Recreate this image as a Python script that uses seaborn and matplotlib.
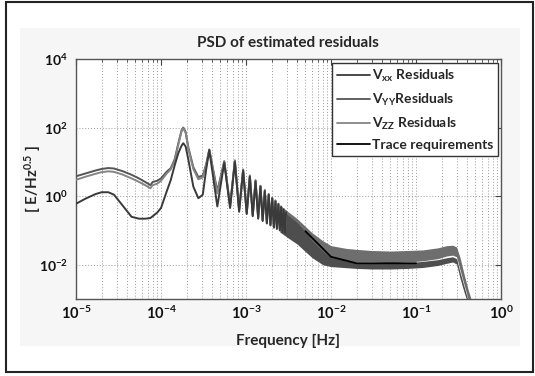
import numpy as np
import pandas as pd
import matplotlib
matplotlib.use("Agg")
import matplotlib.pyplot as plt
from matplotlib.patches import Rectangle
from matplotlib.lines import Line2D
import seaborn as sns

# ---------------- data ----------------
f_low = [1.0e-5, 1.3e-5, 1.7e-5, 2.0e-5, 2.4e-5, 2.8e-5, 3.5e-5, 4.5e-5, 5.5e-5,
         6.5e-5, 7.5e-5, 8.0e-5, 9.0e-5, 1.0e-4, 1.17e-4, 1.3e-4, 1.45e-4, 1.6e-4,
         1.75e-4, 1.83e-4, 1.95e-4, 2.1e-4, 2.4e-4, 2.75e-4, 3.1e-4, 3.4e-4, 3.7e-4]
vyy_low = [3.8, 4.6, 5.6, 6.2, 6.6, 6.4, 5.4, 4.2, 3.3, 2.6, 2.1, 2.6, 2.8, 3.3, 5.2,
           6.5, 12, 35, 85, 100, 75, 26, 7.0, 3.6, 4.0, 8.5, 23]
vzz_low = [3.0, 3.7, 4.5, 5.0, 5.3, 5.1, 4.3, 3.3, 2.6, 2.1, 1.7, 2.1, 2.3, 2.8, 4.6,
           6.0, 11, 32, 80, 95, 70, 24, 6.2, 3.1, 3.5, 8.0, 22]
vxx_low = [0.6, 0.85, 1.15, 1.3, 1.3, 1.1, 0.55, 0.25, 0.22, 0.22, 0.23, 0.26, 0.33,
           0.45, 1.4, 2.9, 8, 18, 30, 35, 28, 11.5, 1.9, 0.87, 1.1, 6.0, 22]

comb_f = [4.6e-4, 5.55e-4, 6.5e-4, 7.4e-4, 8.3e-4, 9.25e-4, 1.02e-3, 1.11e-3, 1.2e-3,
          1.295e-3, 1.39e-3, 1.48e-3, 1.57e-3, 1.665e-3, 1.76e-3, 1.85e-3, 1.94e-3,
          2.035e-3, 2.13e-3, 2.22e-3, 2.31e-3, 2.405e-3, 2.5e-3, 2.59e-3, 2.68e-3,
          2.775e-3, 2.87e-3, 2.96e-3]
comb_yy = [1.4, 10.5, 0.55, 11, 0.4, 6, 0.33, 4, 0.28, 2.9, 0.24, 2.0, 0.2, 1.5, 0.17,
           1.15, 0.15, 0.9, 0.13, 0.75, 0.12, 0.6, 0.11, 0.5, 0.1, 0.42, 0.09, 0.36]
comb_zz = [1.2, 10.0, 0.5, 10.5, 0.38, 5.8, 0.32, 3.9, 0.27, 2.8, 0.23, 1.95, 0.19, 1.45,
           0.165, 1.1, 0.145, 0.88, 0.125, 0.72, 0.115, 0.58, 0.105, 0.48, 0.095, 0.4,
           0.088, 0.35]
comb_xx = [0.5, 9.5, 0.45, 10, 0.35, 5.5, 0.3, 3.7, 0.26, 2.7, 0.22, 1.9, 0.19, 1.4,
           0.16, 1.1, 0.14, 0.85, 0.12, 0.7, 0.11, 0.58, 0.1, 0.48, 0.09, 0.4, 0.085, 0.34]

band_f = [2.5e-3, 3e-3, 4e-3, 5e-3, 6e-3, 8e-3, 1e-2, 1.5e-2, 2e-2, 3e-2, 5e-2, 8e-2,
          0.12, 0.18, 0.23, 0.27, 0.30, 0.33, 0.37, 0.41, 0.45]
band_yy_hi = [0.55, 0.38, 0.22, 0.13, 0.085, 0.05, 0.036, 0.03, 0.028, 0.026, 0.025,
              0.026, 0.027, 0.031, 0.036, 0.037, 0.033, 0.016, 0.005, 0.0019, 0.0009]
band_yy_lo = [0.1, 0.075, 0.05, 0.032, 0.024, 0.017, 0.014, 0.013, 0.012, 0.012, 0.0115,
              0.012, 0.013, 0.015, 0.018, 0.019, 0.017, 0.007, 0.0025, 0.001, 0.0006]
band_xx_hi = [0.45, 0.3, 0.17, 0.09, 0.05, 0.025, 0.016, 0.013, 0.0115, 0.011, 0.011,
              0.0115, 0.0125, 0.014, 0.016, 0.017, 0.015, 0.006, 0.0022, 0.0009, 0.0005]
band_xx_lo = [0.09, 0.065, 0.04, 0.024, 0.016, 0.01, 0.0088, 0.0082, 0.0078, 0.0075,
              0.0075, 0.0078, 0.0083, 0.0095, 0.011, 0.012, 0.0105, 0.004, 0.0015,
              0.0007, 0.0004]

trace_f = [5e-3, 1e-2, 2e-2, 1e-1]
trace_v = [0.095, 0.017, 0.011, 0.011]

labels = [r"V$_{xx}$ Residuals", r"V$_{YY}$Residuals", r"V$_{ZZ}$ Residuals",
          "Trace requirements"]
colors = ["#3a3a3a", "#555555", "#858585", "#000000"]
xtick_vals = [1e-5, 1e-4, 1e-3, 1e-2, 1e-1, 1e0]
xtick_labels = [r"$10^{-5}$", r"$10^{-4}$", r"$10^{-3}$", r"$10^{-2}$", r"$10^{-1}$", r"$10^{0}$"]
ytick_vals = [1e-2, 1e0, 1e2, 1e4]
ytick_labels = [r"$10^{-2}$", r"$10^{0}$", r"$10^{2}$", r"$10^{4}$"]

# ---------------- style ----------------
sns.set_theme(style="white")
plt.rcParams["font.family"] = ["Lato", "DejaVu Sans"]
plt.rcParams["font.weight"] = "bold"
plt.rcParams["mathtext.fontset"] = "custom"
plt.rcParams["mathtext.rm"] = "Lato:bold"
plt.rcParams["mathtext.bf"] = "Lato:bold"
plt.rcParams["mathtext.it"] = "Lato:bold"
plt.rcParams["mathtext.default"] = "bf"

W, H = 535, 376
fig = plt.figure(figsize=(W / 100, H / 100), dpi=100)
fig.patch.set_facecolor("white")
fig.patches.append(Rectangle((20 / W, 1 - 346 / H), 500 / W, 318 / H,
                             transform=fig.transFigure, facecolor="#f6f6f6",
                             edgecolor="none", zorder=-10))
fig.patches.append(Rectangle((6 / W, 1 - 372 / H), 527 / W, 370 / H,
                             transform=fig.transFigure, fill=False,
                             edgecolor="#222222", lw=1.5, zorder=10))

ax = fig.add_axes([76 / W, 1 - 299 / H, (501 - 76) / W, (299 - 59) / H])
ax.set_facecolor("white")

def series(f1, v1, f2, v2):
    return pd.DataFrame({"f": list(f1) + list(f2), "v": list(v1) + list(v2)})

df_xx = series(f_low, vxx_low, comb_f, comb_xx)
df_yy = series(f_low, vyy_low, comb_f, comb_yy)
df_zz = series(f_low, vzz_low, comb_f, comb_zz)

ax.fill_between(band_f, band_yy_lo, band_yy_hi, color="#6e6e6e", lw=0, zorder=2)
ax.fill_between(band_f, band_xx_lo, band_xx_hi, color="#4e4e4e", lw=0, zorder=2)

sns.lineplot(data=df_yy, x="f", y="v", ax=ax, color=colors[1], lw=1.4,
             estimator=None, sort=False, zorder=3)
sns.lineplot(data=df_zz, x="f", y="v", ax=ax, color=colors[2], lw=1.4,
             estimator=None, sort=False, zorder=3)
sns.lineplot(data=df_xx, x="f", y="v", ax=ax, color=colors[0], lw=1.4,
             estimator=None, sort=False, zorder=3)
sns.lineplot(x=trace_f, y=trace_v, ax=ax, color=colors[3], lw=1.3,
             estimator=None, sort=False, zorder=4)

ax.set_xscale("log")
ax.set_yscale("log")
ax.set_xlim(1e-5, 1e0)
ax.set_ylim(1e-3, 1e4)
ax.set_xticks(xtick_vals)
ax.set_xticklabels(xtick_labels)
ax.set_yticks(ytick_vals)
ax.set_yticklabels(ytick_labels)
ax.yaxis.set_minor_locator(matplotlib.ticker.NullLocator())
ax.xaxis.set_minor_locator(matplotlib.ticker.LogLocator(base=10, subs=np.arange(2, 10)))
ax.xaxis.set_minor_formatter(matplotlib.ticker.NullFormatter())
ax.set_xlabel("")
ax.set_ylabel("")

ax.tick_params(axis="both", which="both", direction="in", top=True, right=True,
               colors="#444444", labelcolor="#111111")
ax.tick_params(axis="both", which="major", length=4, width=0.8)
ax.tick_params(axis="x", which="major", pad=4, labelsize=10.5)
ax.tick_params(axis="y", which="major", pad=6, labelsize=10)
ax.tick_params(axis="x", which="minor", length=2, width=0.6)

ax.grid(True, which="major", axis="both", color="#9a9a9a", ls=(0, (1, 2)), lw=0.7)
ax.grid(True, which="minor", axis="x", color="#9a9a9a", ls=(0, (1, 2)), lw=0.7)
for s in ax.spines.values():
    s.set_visible(True)
    s.set_color("#555555")
    s.set_linewidth(1.0)

handles = [Line2D([], [], color=c, lw=1.3) for c in colors]
leg = ax.legend(handles, labels, loc="upper right", bbox_to_anchor=(0.993, 0.983),
                borderaxespad=0, fancybox=False, frameon=True,
                handlelength=2.4, handletextpad=0.1, labelspacing=0.55,
                borderpad=0.35, prop={"weight": "bold", "size": 10})
leg.get_frame().set_edgecolor("#333333")
leg.get_frame().set_linewidth(1.0)
leg.get_frame().set_alpha(1)

fig.text(288 / W, 1 - 43 / H, "PSD of estimated residuals", ha="center", va="center",
         fontsize=11, fontweight="bold")
fig.text(288 / W, 1 - 341 / H, "Frequency [Hz]", ha="center", va="center",
         fontsize=11, fontweight="bold")
fig.text(33 / W, 1 - 179 / H, r"[ E/Hz$^{0.5}$ ]", ha="center", va="center",
         rotation=90, fontsize=11, fontweight="bold")

fig.savefig("out.png", dpi=100)
